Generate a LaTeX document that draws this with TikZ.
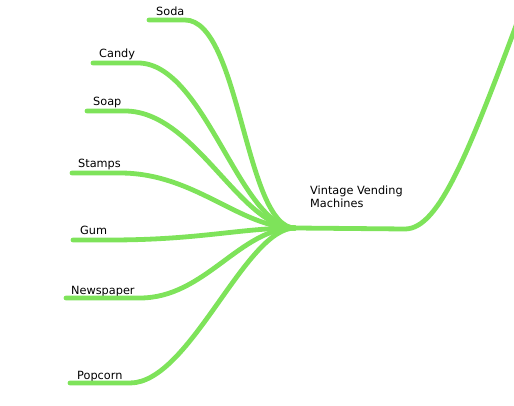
\documentclass[tikz,border=0pt]{standalone}
\usepackage{fontspec}
\setmainfont{DejaVu Sans}
\definecolor{branch}{RGB}{126,227,90}
\begin{document}
\begin{tikzpicture}[x=1pt,y=-1pt,
  branchline/.style={draw=branch,line width=4.8pt,line cap=round},
  lbl/.style={anchor=base west,inner sep=0pt,font=\fontsize{11.3}{13.5}\selectfont}]
\useasboundingbox (0,0) rectangle (514,406);
\clip (0,0) rectangle (514,406);
\coordinate (hub) at (295,228);
\coordinate (out) at (530,-12);
% labels
\node[lbl] (soda) at (156,16) {Soda};
\node[lbl] (candy) at (99,58) {Candy};
\node[lbl] (soap) at (93,106) {Soap};
\node[lbl] (stamps) at (78,168) {Stamps};
\node[lbl] (gum) at (80,235) {Gum};
\node[lbl] (news) at (71,294) {Newspaper};
\node[lbl] (pop) at (77,379) {Popcorn};
\node[lbl,align=left,anchor=base west] (center) at (310,208) {Vintage Vending\\Machines};
% line start points
\coordinate (sodaS) at (149,20);
\coordinate (candyS) at (93,63);
\coordinate (soapS) at (87,111);
\coordinate (stampsS) at (72,173);
\coordinate (gumS) at (73,240);
\coordinate (newsS) at (66,298);
\coordinate (popS) at (70,383);
% branches
\draw[branchline] (sodaS) -- (185,20) .. controls (240,20) and (245,228) .. (hub);
\draw[branchline] (candyS) -- (138,63) .. controls (205,63) and (240,228) .. (hub);
\draw[branchline] (soapS) -- (125,111) .. controls (195,111) and (240,228) .. (hub);
\draw[branchline] (stampsS) -- (120,173) .. controls (195,173) and (240,228) .. (hub);
\draw[branchline] (gumS) -- (110,240) .. controls (200,240) and (240,228) .. (hub);
\draw[branchline] (newsS) -- (140,298) .. controls (205,298) and (240,228) .. (hub);
\draw[branchline] (popS) -- (130,383) .. controls (190,383) and (245,228) .. (hub);
\draw[branchline] (hub) -- (405,229) .. controls (440,229) and (470,150) .. (out);
\end{tikzpicture}
\end{document}
